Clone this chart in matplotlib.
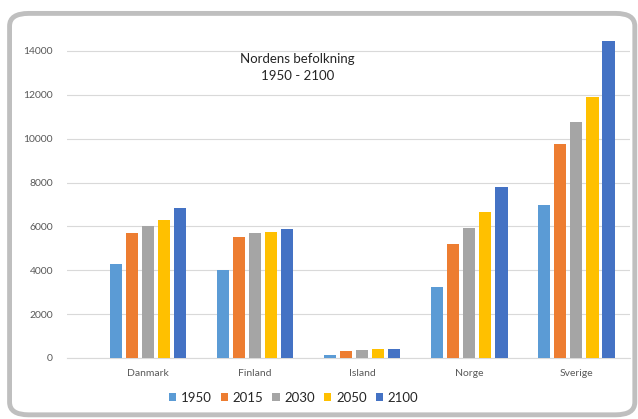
import numpy as np
import matplotlib.pyplot as plt
from matplotlib.patches import FancyBboxPatch

plt.rcParams['font.family'] = ['Lato', 'DejaVu Sans']

countries = ['Danmark', 'Finland', 'Island', 'Norge', 'Sverige']
years = ['1950', '2015', '2030', '2050', '2100']

pop_1950 = [4280, 3990, 140, 3220, 6990]
pop_2015 = [5700, 5500, 330, 5180, 9760]
pop_2030 = [6020, 5710, 365, 5930, 10760]
pop_2050 = [6280, 5760, 395, 6660, 11890]
pop_2100 = [6850, 5860, 395, 7810, 14450]

series = [pop_1950, pop_2015, pop_2030, pop_2050, pop_2100]
colors = ['#5B9BD5', '#ED7D31', '#A5A5A5', '#FFC000', '#4472C4']

fig = plt.figure(figsize=(6.38, 4.19), dpi=100)

# rounded frame around the whole chart, kept behind the axes
frame = FancyBboxPatch((0.015, 0.01), 0.98, 0.958,
                       boxstyle='round,pad=0,rounding_size=0.03',
                       transform=fig.transFigure, facecolor='white',
                       edgecolor='#BFBFBF', linewidth=3.5, zorder=-1)
fig.patches.append(frame)

ax = fig.add_axes([0.105, 0.1456, 0.882, 0.759])
ax.set_facecolor('none')

x = np.arange(len(countries))
pitch = 0.15
width = 0.117
for i, (vals, col) in enumerate(zip(series, colors)):
    ax.bar(x + (i - 2) * pitch, vals, width, color=col, label=years[i], zorder=3)

ax.set_xlim(-0.757, 4.5)
ax.set_ylim(0, 14500)
ax.set_yticks(range(0, 14001, 2000))
ax.yaxis.grid(True, color='#D9D9D9', linewidth=0.8, zorder=0)
ax.set_axisbelow(True)
ax.set_xticks(x)
ax.set_xticklabels(countries)
ax.tick_params(axis='both', length=0, labelsize=7.5, colors='#595959')
ax.tick_params(axis='y', pad=10)
ax.tick_params(axis='x', pad=8)
for s in ['top', 'right', 'left']:
    ax.spines[s].set_visible(False)
ax.spines['bottom'].set_color('#D9D9D9')

fig.text(0.466, 0.84, 'Nordens befolkning\n1950 - 2100', ha='center', va='center',
         fontsize=9.5, color='#262626', linespacing=1.5)

leg = fig.legend(loc='center', bbox_to_anchor=(0.46, 0.05), ncol=5, frameon=False,
                 fontsize=9.5, handlelength=0.55, handleheight=0.55, handletextpad=0.35,
                 columnspacing=0.7)
for t in leg.get_texts():
    t.set_color('#262626')

fig.savefig('out.png', dpi=100)
